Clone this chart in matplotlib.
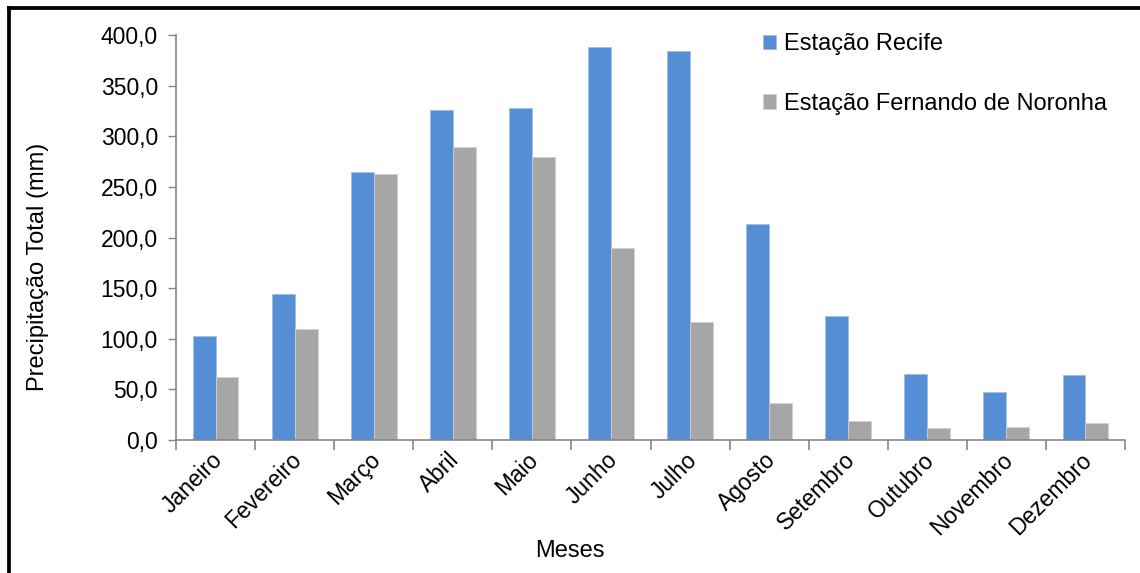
import matplotlib
matplotlib.use("Agg")
import matplotlib.pyplot as plt
import matplotlib.transforms as mtransforms
import numpy as np
from matplotlib.lines import Line2D

plt.rcParams['font.family'] = ['Liberation Sans', 'DejaVu Sans']

meses = ["Janeiro", "Fevereiro", "Março", "Abril", "Maio", "Junho",
         "Julho", "Agosto", "Setembro", "Outubro", "Novembro", "Dezembro"]
recife = [103.0, 144.0, 264.5, 325.5, 328.0, 388.5,
          384.5, 213.0, 122.5, 65.0, 47.5, 64.0]
noronha = [62.5, 109.5, 262.5, 289.5, 279.5, 189.5,
           117.0, 36.5, 18.5, 12.0, 13.0, 17.0]
yticks = [0, 50, 100, 150, 200, 250, 300, 350, 400]
serie_labels = ["Estação Recife", "Estação Fernando de Noronha"]

azul = "#558ed5"
cinza = "#a6a6a6"
eixo = "#868686"

fig = plt.figure(figsize=(11.4, 5.73), dpi=100)
ax = fig.add_axes([176/1140, 1-440/573, (1125-176)/1140, (440-35)/573])

x = np.arange(len(meses))
w = 0.29
ax.bar(x - w/2, recife, w, color=azul, edgecolor="#9fc0ea", linewidth=0.6,
       label=serie_labels[0])
ax.bar(x + w/2, noronha, w, color=cinza, edgecolor="#d0d0d0", linewidth=0.6,
       label=serie_labels[1])

ax.set_xlim(-0.5, len(meses) - 0.5)
ax.set_ylim(0, 400)
ax.set_yticks(yticks)
ax.set_yticklabels([f"{v:.1f}".replace(".", ",") for v in yticks], fontsize=16.5)

# category ticks sit on the boundaries between months
ax.set_xticks(np.arange(len(meses) + 1) - 0.5, minor=False)
ax.set_xticklabels([])
ax.set_xticks(x, minor=True)
ax.set_xticklabels(meses, minor=True, rotation=45, ha="right",
                   rotation_mode="anchor", fontsize=16.5)
ax.tick_params(axis="x", which="minor", length=0, pad=6)
ax.tick_params(axis="x", which="major", length=7, width=1.2, color=eixo,
               direction="out")
ax.tick_params(axis="y", length=6, width=1.0, color=eixo, direction="out",
               pad=7)

# nudge the slanted month names so they end under each category centre
shift = mtransforms.ScaledTranslation(-5/100, 0, fig.dpi_scale_trans)
for lbl in ax.get_xticklabels(minor=True):
    lbl.set_transform(lbl.get_transform() + shift)

for s in ["top", "right"]:
    ax.spines[s].set_visible(False)
for s in ["left", "bottom"]:
    ax.spines[s].set_color(eixo)
    ax.spines[s].set_linewidth(1.2)

fig.text(38/1140, 1-267/573, "Precipitação Total (mm)", rotation=90,
         ha="center", va="center", fontsize=17)
fig.text(570/1140, 1-551/573, "Meses", ha="center", va="center", fontsize=17)

ax.legend(loc="upper left", bbox_to_anchor=(763/1140, 1-33/573),
          bbox_transform=fig.transFigure, frameon=False, fontsize=17,
          handlelength=0.55, handleheight=0.55, handletextpad=0.35,
          labelspacing=1.6, borderpad=0, borderaxespad=0)

# frame lines along the left and top edges
fig.add_artist(Line2D([8.8/1140, 8.8/1140], [0, 1-5.5/573], color="black",
                      linewidth=2.7, transform=fig.transFigure,
                      solid_capstyle="butt"))
fig.add_artist(Line2D([7/1140, 1], [1-7.5/573, 1-7.5/573], color="black",
                      linewidth=2.7, transform=fig.transFigure,
                      solid_capstyle="butt"))

fig.savefig("out.png", dpi=100)
